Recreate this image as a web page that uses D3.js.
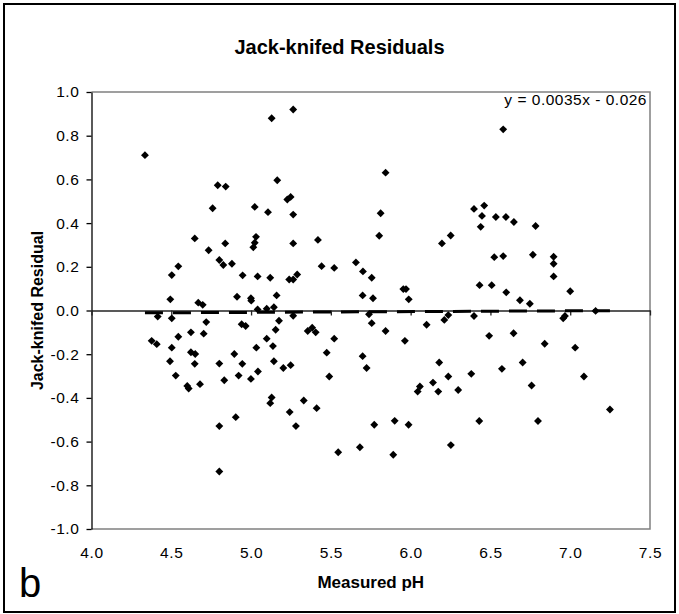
<!DOCTYPE html>
<html>
<head>
<meta charset="utf-8">
<script src="https://cdn.jsdelivr.net/npm/d3@7"></script>
<style>
body { margin: 0; background: #fff; }
text { font-family: "Liberation Sans", Arial, sans-serif; fill: #000; }
</style>
</head>
<body>
<div class="chart"></div>
<script>
// measured pH (x) and jack-knifed residual (y)
const ph = [
  4.335, 5.129, 5.164, 4.791, 4.841, 4.759, 5.023, 5.106, 4.647, 4.838,
  4.734, 5.031, 5.023, 5.014, 4.801, 4.826, 4.880, 4.544, 4.503, 4.947,
  5.041, 5.120, 4.494, 4.669, 4.697, 4.912, 4.999, 5.001, 5.160, 5.041,
  5.098, 5.143, 5.264, 5.227, 5.248, 5.264, 5.843, 5.812, 5.803, 5.264,
  5.419, 6.196, 6.251, 5.442, 5.521, 5.657, 5.701, 5.756, 5.239, 5.264,
  5.289, 5.699, 5.764, 5.954, 5.971, 5.988, 6.580, 6.397, 6.461, 6.447,
  6.439, 6.534, 6.597, 6.647, 6.783, 6.524, 6.580, 6.766, 6.896, 6.896,
  6.896, 6.432, 6.508, 6.599, 6.685, 6.747, 7.000, 7.159, 6.967, 6.956,
  4.415, 4.503, 4.719, 4.941, 4.966, 4.377, 4.409, 4.544, 4.623, 4.703,
  4.503, 4.623, 4.650, 4.492, 4.647, 4.801, 4.895, 4.945, 5.033, 5.098,
  5.137, 5.154, 5.175, 5.143, 4.528, 4.832, 4.922, 4.999, 5.043, 4.609,
  4.600, 4.680, 5.129, 5.120, 4.904, 4.801, 4.801, 5.264, 5.355, 5.383,
  5.405, 5.521, 5.739, 5.756, 5.843, 5.964, 6.100, 6.211, 6.236, 5.474,
  5.490, 5.699, 5.724, 5.202, 5.248, 5.242, 5.330, 5.411, 5.281, 5.546,
  5.682, 5.891, 5.772, 5.900, 5.987, 6.179, 6.236, 6.140, 6.058, 6.044,
  6.173, 6.298, 6.252, 6.397, 6.492, 6.645, 6.840, 7.031, 6.380, 6.572,
  6.702, 6.758, 7.086, 7.249, 6.430, 6.798
];
const residual = [
  0.711, 0.880, 0.596, 0.573, 0.567, 0.468, 0.474, 0.450, 0.330, 0.307,
  0.276, 0.337, 0.310, 0.289, 0.231, 0.208, 0.214, 0.202, 0.162, 0.161,
  0.156, 0.150, 0.051, 0.036, 0.026, 0.063, 0.056, 0.045, 0.069, 0.005,
  0.008, 0.015, 0.920, 0.508, 0.520, 0.439, 0.631, 0.445, 0.342, 0.307,
  0.323, 0.307, 0.343, 0.203, 0.195, 0.220, 0.179, 0.150, 0.142, 0.142,
  0.165, 0.069, 0.056, 0.098, 0.098, 0.051, 0.829, 0.465, 0.480, 0.433,
  0.383, 0.428, 0.428, 0.405, 0.387, 0.244, 0.249, 0.255, 0.246, 0.214,
  0.156, 0.116, 0.116, 0.083, 0.047, 0.031, 0.088, -0.002, -0.025, -0.036,
  -0.028, -0.036, -0.053, -0.063, -0.071, -0.139, -0.154, -0.120, -0.100, -0.106,
  -0.170, -0.191, -0.199, -0.232, -0.244, -0.243, -0.199, -0.244, -0.170, -0.129,
  -0.163, -0.088, -0.047, -0.232, -0.298, -0.319, -0.298, -0.313, -0.279, -0.357,
  -0.345, -0.337, -0.398, -0.424, -0.488, -0.529, -0.737, -0.024, -0.094, -0.079,
  -0.100, -0.129, -0.017, -0.058, -0.094, -0.139, -0.065, -0.043, -0.021, -0.193,
  -0.302, -0.209, -0.263, -0.263, -0.250, -0.465, -0.412, -0.447, -0.529, -0.649,
  -0.626, -0.660, -0.523, -0.505, -0.523, -0.238, -0.302, -0.330, -0.348, -0.371,
  -0.371, -0.364, -0.616, -0.025, -0.116, -0.104, -0.152, -0.170, -0.290, -0.267,
  -0.238, -0.343, -0.302, -0.453, -0.506, -0.506
];
const xTicks = [4.0, 4.5, 5.0, 5.5, 6.0, 6.5, 7.0, 7.5];
const yTicks = [-1.0, -0.8, -0.6, -0.4, -0.2, 0.0, 0.2, 0.4, 0.6, 0.8, 1.0];
const trendSlope = 0.0035;
const trendIntercept = -0.026;
const trendLabel = 'y = 0.0035x - 0.026';
const chartTitle = 'Jack-knifed Residuals';
const xTitle = 'Measured pH';
const yTitle = 'Jack-knifed Residual';
const panelLetter = 'b';

const W = 679, H = 614;
const plot = {left: 91.5, right: 650, top: 92, bottom: 529};

const svg = d3.select('.chart').append('svg')
  .attr('width', W)
  .attr('height', H);

svg.append('rect')
  .attr('x', 4).attr('y', 4)
  .attr('width', 671).attr('height', 608)
  .attr('fill', '#fff')
  .attr('stroke', '#000')
  .attr('stroke-width', 2);

const xScale = d3.scaleLinear().domain([4, 7.5]).range([plot.left, plot.right]);
const yScale = d3.scaleLinear().domain([-1, 1]).range([plot.bottom, plot.top]);

// plot area frame (grey top / right / bottom)
svg.append('path')
  .attr('d', `M${plot.left},${plot.top}H${plot.right}V${plot.bottom}H${plot.left}`)
  .attr('fill', 'none')
  .attr('stroke', '#808080')
  .attr('stroke-width', 1.5);

// y axis
const yAxis = d3.axisLeft(yScale)
  .tickValues(yTicks)
  .tickSize(5)
  .tickSizeOuter(0)
  .tickPadding(7)
  .tickFormat(d => d.toFixed(1));

const gy = svg.append('g')
  .attr('class', 'axis y-axis')
  .attr('transform', `translate(${plot.left},0)`)
  .call(yAxis);
gy.selectAll('text')
  .style('font-size', '15.5px')
  .style('letter-spacing', '0.6px');
gy.selectAll('line, path').attr('stroke', '#000').attr('stroke-width', 1.3);

// x axis crossing at y = 0, ticks only
const xAxis = d3.axisBottom(xScale)
  .tickValues(xTicks)
  .tickSize(5)
  .tickSizeOuter(0)
  .tickFormat(() => '');

const gx = svg.append('g')
  .attr('class', 'axis x-axis')
  .attr('transform', `translate(0,${yScale(0)})`)
  .call(xAxis);
gx.selectAll('line, path').attr('stroke', '#222').attr('stroke-width', 1.3);

// x tick labels at the bottom of the plot
const xLabels = d3.axisBottom(xScale)
  .tickValues(xTicks)
  .tickSize(0)
  .tickPadding(18)
  .tickFormat(d => d.toFixed(1));

const gxl = svg.append('g')
  .attr('transform', `translate(0,${plot.bottom})`)
  .call(xLabels);
gxl.select('.domain').remove();
gxl.selectAll('text')
  .style('font-size', '15.5px')
  .style('letter-spacing', '0.6px');

// trend line
const xr = d3.extent(ph);
svg.append('line')
  .attr('x1', xScale(xr[0]))
  .attr('y1', yScale(trendSlope * xr[0] + trendIntercept))
  .attr('x2', xScale(xr[1]))
  .attr('y2', yScale(trendSlope * xr[1] + trendIntercept))
  .attr('stroke', '#000')
  .attr('stroke-width', 3)
  .attr('stroke-dasharray', '18,10');

// points
const data = ph.map((p, i) => ({ph: p, res: residual[i]}));
svg.selectAll('.pt')
  .data(data)
  .enter()
  .append('path')
  .attr('class', 'pt')
  .attr('d', d3.symbol().type(d3.symbolSquare).size(31))
  .attr('transform', d => `translate(${xScale(d.ph)},${yScale(d.res)}) rotate(45)`)
  .attr('fill', '#000');

// texts
svg.append('text')
  .attr('x', W / 2)
  .attr('y', 54)
  .attr('text-anchor', 'middle')
  .style('font-size', '20px')
  .style('font-weight', 'bold')
  .text(chartTitle);

svg.append('text')
  .attr('x', (plot.left + plot.right) / 2)
  .attr('y', 588)
  .attr('text-anchor', 'middle')
  .style('font-size', '17px')
  .style('font-weight', 'bold')
  .text(xTitle);

svg.append('text')
  .attr('transform', `translate(43,${(plot.top + plot.bottom) / 2}) rotate(-90)`)
  .attr('text-anchor', 'middle')
  .style('font-size', '16px')
  .style('font-weight', 'bold')
  .text(yTitle);

svg.append('text')
  .attr('x', 647)
  .attr('y', 105)
  .attr('text-anchor', 'end')
  .style('font-size', '15.5px')
  .style('letter-spacing', '0.5px')
  .text(trendLabel);

svg.append('text')
  .attr('x', 19)
  .attr('y', 597)
  .style('font-size', '40px')
  .text(panelLetter);
</script>
</body>
</html>
